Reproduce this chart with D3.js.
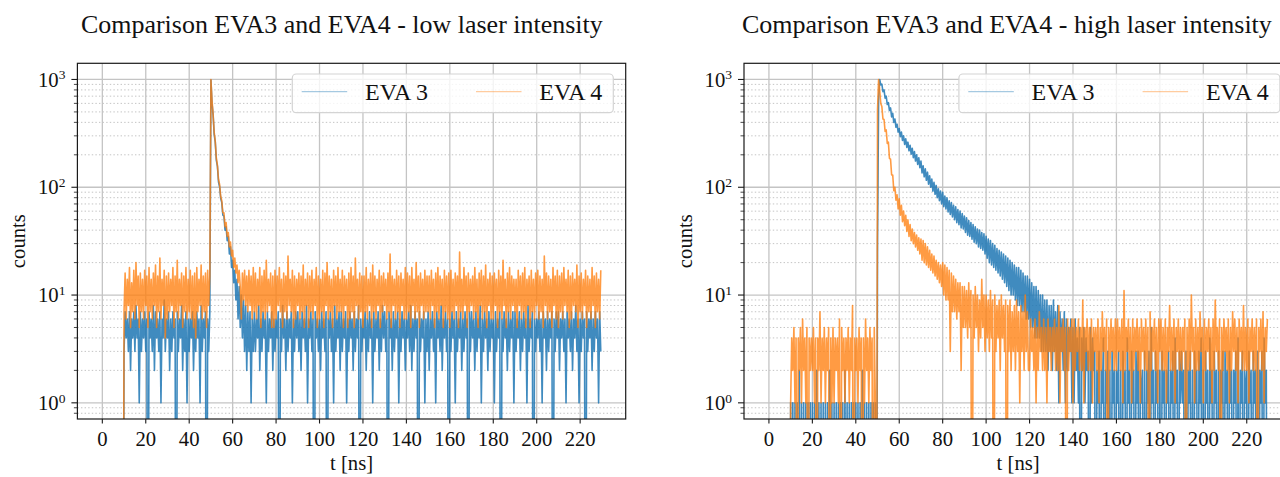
<!DOCTYPE html>
<html>
<head>
<meta charset="utf-8">
<script src="https://cdn.jsdelivr.net/npm/d3@7"></script>
<style>
  body { margin: 0; background: #fff; }
  text { font-family: "Liberation Serif", "Times New Roman", serif; fill: #111; }
</style>
</head>
<body>
<svg id="fig" width="1280" height="477"></svg>
<script>
// time bins: t = T_START + i * T_STEP  (ns)
const T_START = 0;
const T_STEP = 0.5;

const X_TICKS = [0, 20, 40, 60, 80, 100, 120, 140, 160, 180, 200, 220];
const Y_TICKS = [1, 10, 100, 1000];
const SERIES_NAMES = ["EVA 3", "EVA 4"];
const TITLES = [
    "Comparison EVA3 and EVA4 - low laser intensity",
    "Comparison EVA3 and EVA4 - high laser intensity"
];

// counts per bin, one row = 10 ns
const eva3Low = [
    0,0,0,0,0,0,0,0,0,0,0,0,0,0,0,0,0,0,0,0,
    3,7,4,6,3,7,2,6,4,7,3,8,4,6,1,7,3,6,4,7,
    3,6,0,7,4,6,3,8,2,7,4,6,3,7,1,6,4,9,3,6,
    4,7,2,6,3,7,4,6,0,7,3,6,4,8,2,6,3,7,1,6,
    3,6,4,7,2,6,3,7,4,6,1,8,3,6,4,7,0,6,3,7,
    990,600,470,310,262,178,156,112,101,79,72,55,54,40,43,32,35,24,28,18,
    21,13,17,9,14,6,12,5,10,4,9,3,8,2,7,3,7,1,6,3,
    7,3,6,4,8,2,6,3,7,4,6,1,7,3,6,4,7,2,6,3,
    6,4,7,0,6,3,8,4,6,2,7,3,6,4,7,1,6,3,7,4,
    7,3,6,2,7,4,6,3,8,1,6,4,7,3,6,0,7,4,6,3,
    6,2,7,4,6,3,7,0,6,4,7,3,6,1,8,3,6,4,7,2,
    7,3,6,4,7,1,6,3,7,4,6,2,7,3,6,4,8,0,6,3,
    6,4,7,2,6,3,7,4,6,1,7,3,6,4,7,2,6,3,8,4,
    7,3,6,0,7,4,6,2,7,3,6,4,7,1,6,3,7,4,6,2,
    6,4,7,3,8,2,6,3,7,4,6,0,7,3,6,4,7,1,6,3,
    7,2,6,4,7,3,6,1,7,4,6,3,8,2,6,4,7,3,6,0,
    6,3,7,4,6,1,7,3,6,4,7,2,6,3,7,4,6,0,7,3,
    7,4,6,2,7,3,6,4,8,1,6,3,7,4,6,2,7,3,6,4,
    6,1,7,3,6,4,7,0,6,3,7,4,6,2,7,3,6,4,7,1,
    7,3,6,4,7,2,6,3,7,4,6,1,8,3,6,4,7,0,6,3,
    6,4,7,3,6,1,7,4,6,2,7,3,6,4,7,0,6,3,7,4,
    7,2,6,4,7,3,6,1,7,4,6,3,7,2,6,4,8,3,6,1,
    6,3,7,4,6,0,7,3,6,4,7,2,6,3,7,4,6,1,7,3
];

const eva4Low = [
    0,0,0,0,0,0,0,0,0,0,0,0,0,0,0,0,0,0,0,0,
    7,16,6,14,8,18,5,13,7,17,6,20,8,15,5,16,7,14,6,17,
    8,15,5,18,7,14,6,16,8,19,5,15,7,22,6,14,8,17,4,15,
    6,16,7,14,8,18,5,15,7,21,6,14,8,16,5,15,7,18,6,14,
    7,17,6,15,5,16,4,18,7,14,8,19,6,15,7,16,5,17,8,15,
    1000,640,480,325,266,186,160,118,106,82,75,58,58,43,47,35,38,28,31,23,
    26,18,22,16,19,13,17,12,6,16,9,17,8,15,7,17,8,15,6,18,
    7,16,6,14,8,18,5,15,7,17,6,21,7,14,8,16,5,15,5,17,
    6,15,8,18,7,14,5,16,7,15,6,23,8,14,7,17,5,15,6,14,
    8,16,6,15,7,19,5,14,8,16,5,15,7,17,6,14,8,18,5,15,
    6,14,7,17,5,16,8,20,6,15,7,14,5,17,8,15,6,18,7,14,
    7,17,5,15,8,14,5,16,6,18,7,15,5,22,8,14,6,16,7,15,
    5,15,7,18,6,14,8,16,5,19,7,15,6,14,8,17,5,15,7,16,
    8,14,6,16,7,24,5,15,8,14,6,17,7,15,5,16,8,14,6,18,
    6,16,7,15,5,18,8,14,6,20,7,15,5,16,8,14,6,17,7,15,
    7,15,6,17,8,14,5,16,7,18,6,15,8,14,5,17,7,15,6,16,
    5,17,7,14,6,16,8,15,5,25,7,14,6,18,8,15,5,16,7,14,
    8,15,6,18,7,14,5,16,8,17,6,15,7,19,5,14,8,16,6,15,
    6,16,8,14,5,17,7,15,6,21,8,14,5,16,7,18,6,15,8,14,
    7,14,5,17,8,15,6,16,7,18,5,14,8,15,5,17,7,14,6,16,
    8,17,6,15,7,14,5,23,8,16,6,15,7,14,5,18,8,15,6,17,
    5,15,7,16,6,18,8,14,7,17,5,15,6,16,8,14,7,19,5,15,
    7,16,6,14,8,17,5,15,7,14,6,18,8,15,5,16,7,14,6,17
];

const eva3High = [
    0,0,0,0,0,0,0,0,0,0,0,0,0,0,0,0,0,0,0,0,
    1,0,1,0,1,0,1,0,2,0,1,0,1,0,1,0,1,0,1,0,
    1,0,1,0,2,0,1,0,1,0,1,0,1,0,1,0,2,0,1,0,
    1,0,1,0,1,0,1,0,1,0,2,0,1,0,1,0,1,0,1,0,
    1,0,1,0,1,0,2,0,1,0,1,0,1,0,1,0,1,0,1,0,
    30,640,1000,890,905,770,800,670,700,585,610,515,545,450,485,400,430,360,385,325,
    350,295,325,272,300,250,282,234,262,218,245,203,230,188,214,175,200,163,188,152,
    175,136,158,125,148,116,138,107,128,100,119,92,111,86,104,80,97,75,92,70,
    90,66,83,63,80,59,75,56,72,53,68,50,66,47,62,45,60,42,57,41,
    54,38,52,36,49,35,47,33,45,31,43,30,41,28,40,27,38,26,37,24,
    35,22,33,20,32,19,30,18,29,17,27,16,26,15,25,14,24,13,23,12,
    22,11,21,10,20,10,19,9,18,8,18,8,17,7,16,7,15,6,15,6,
    14,5,13,5,12,4,12,4,11,4,10,3,10,3,9,3,9,2,8,3,
    8,2,9,3,7,2,8,1,7,3,6,2,7,1,6,2,5,3,6,1,
    5,1,6,2,4,1,5,0,4,2,5,1,4,2,3,0,5,1,4,2,
    3,0,2,1,3,0,2,1,4,0,2,1,3,0,2,0,3,1,2,0,
    2,1,3,0,2,0,3,1,2,0,4,1,2,0,3,1,2,0,3,1,
    3,0,2,1,2,0,3,0,2,1,3,0,5,1,2,0,3,1,2,0,
    2,0,3,1,2,0,2,1,3,0,2,1,3,0,4,1,2,0,3,1,
    3,1,2,0,3,0,2,1,3,0,2,0,3,1,2,0,3,1,4,0,
    2,0,3,1,2,0,4,1,2,0,3,1,2,0,3,0,2,1,3,0,
    3,1,2,0,3,1,2,0,2,1,3,0,4,0,2,1,3,0,2,1,
    2,0,3,1,2,0,3,1,2,0,3,0,2,1,3,0,4,1,2,0
];

const eva4High = [
    0,0,0,0,0,0,0,0,0,0,0,0,0,0,0,0,0,0,0,0,
    1,4,2,5,1,4,0,4,2,5,1,6,2,4,1,5,0,4,2,4,
    2,5,1,4,0,4,2,7,1,4,2,5,1,4,2,5,0,4,1,5,
    1,4,2,4,1,6,0,5,2,4,1,4,2,5,1,4,2,8,0,4,
    2,4,1,5,2,4,0,4,1,6,2,4,1,5,2,4,0,5,1,0,
    520,1000,790,600,560,430,425,330,340,255,262,185,182,130,130,93,100,76,85,63,
    78,55,68,48,60,44,55,39,50,35,45,32,41,30,38,28,36,26,34,24,
    33,21,32,20,30,19,28,18,26,17,24,16,23,15,21,14,20,13,19,12,
    20,10,19,9,18,9,17,3,16,7,15,7,14,6,13,7,13,2,12,5,
    12,5,11,4,13,5,11,0,10,4,12,5,10,3,9,4,14,5,10,3,
    10,4,9,3,11,4,9,0,10,3,8,4,9,2,10,4,8,3,9,0,
    8,3,9,2,7,3,8,2,9,3,7,1,8,3,7,2,10,3,7,2,
    2,6,3,5,2,6,1,5,2,7,3,5,2,6,2,5,1,6,3,5,
    2,5,3,6,2,5,2,8,1,5,3,6,2,5,0,6,2,5,3,6,
    1,6,2,5,3,6,2,5,2,9,1,5,3,6,2,5,2,6,1,5,
    3,5,2,6,1,5,2,7,3,5,2,6,0,5,2,6,3,5,2,6,
    2,6,3,5,2,6,1,11,2,5,3,6,2,5,1,6,2,5,3,6,
    2,5,1,6,3,5,2,6,2,5,0,7,2,5,3,6,2,5,1,6,
    3,6,2,5,2,6,1,5,3,8,2,5,2,6,1,5,3,6,2,5,
    2,5,3,6,0,5,2,6,2,10,3,5,1,6,2,5,2,7,3,5,
    1,6,2,5,3,6,2,5,1,6,2,9,3,5,2,6,0,5,2,6,
    3,5,2,6,1,5,2,7,3,6,2,5,1,6,3,5,2,8,2,5,
    2,6,1,5,3,6,2,5,2,6,0,5,3,6,2,7,1,5,3,6
];

const COLORS = ["#1f77b4", "#ff7f0e"];
const LINE_ALPHA = [0.85, 0.78];
const LINE_W = 1.6;
const AX_W = 548.3;
const AX_TOP = 63.3;
const AX_BOTTOM = 419;
const FONT = 20.7;

const svg = d3.select("#fig");

const panels = [
    { title: TITLES[0], left: 77.4, titleX: 81, titleW: 522, series: [eva3Low, eva4Low] },
    { title: TITLES[1], left: 744, titleX: 742, titleW: 530, series: [eva3High, eva4High] }
];

// shrink / grow a text element until it spans the wanted width
function fitWidth(sel, target) {
    const size = +sel.attr("font-size");
    const w = sel.node().getComputedTextLength();
    if (w > 0) sel.attr("font-size", size * target / w);
}

panels.forEach((p, pi) => {
    const g = svg.append("g");
    const n = p.series[0].length;
    const tMax = T_START + (n - 1) * T_STEP;
    const pad = 0.05 * (tMax - T_START);
    const x = d3.scaleLinear()
        .domain([T_START - pad, tMax + pad])
        .range([p.left, p.left + AX_W]);

    const positive = p.series.flat().filter(v => v > 0);
    const lo = Math.log10(d3.min(positive));
    const hi = Math.log10(d3.max(positive));
    const m = 0.05 * (hi - lo);
    const y = d3.scaleLog()
        .domain([10 ** (lo - m), 10 ** (hi + m)])
        .range([AX_BOTTOM, AX_TOP]);
    const [y0, y1] = y.domain();

    // minor log ticks 2..9 per decade
    const minor = [];
    for (let k = Math.floor(Math.log10(y0)); k <= Math.ceil(Math.log10(y1)); k++) {
        for (let j = 2; j <= 9; j++) {
            const v = j * 10 ** k;
            if (v >= y0 && v <= y1) minor.push(v);
        }
    }

    const clipId = "clip" + pi;
    svg.append("clipPath").attr("id", clipId)
        .append("rect")
        .attr("x", p.left).attr("y", AX_TOP)
        .attr("width", AX_W).attr("height", AX_BOTTOM - AX_TOP);

    // grid
    g.selectAll(".ming").data(minor).enter().append("line")
        .attr("x1", p.left).attr("x2", p.left + AX_W)
        .attr("y1", d => y(d)).attr("y2", d => y(d))
        .attr("stroke", "#bdbdbd").attr("stroke-width", 0.9)
        .attr("stroke-dasharray", "1.4,2.2");
    g.selectAll(".majy").data(Y_TICKS).enter().append("line")
        .attr("x1", p.left).attr("x2", p.left + AX_W)
        .attr("y1", d => y(d)).attr("y2", d => y(d))
        .attr("stroke", "#c4c4c4").attr("stroke-width", 1.3);
    g.selectAll(".majx").data(X_TICKS).enter().append("line")
        .attr("x1", d => x(d)).attr("x2", d => x(d))
        .attr("y1", AX_TOP).attr("y2", AX_BOTTOM)
        .attr("stroke", "#c4c4c4").attr("stroke-width", 1.3);

    // data lines, zero counts fall far below the axis and get clipped
    const line = d3.line()
        .x((d, i) => x(T_START + i * T_STEP))
        .y(d => y(Math.max(d, y0 / 1000)));

    p.series.forEach((s, si) => {
        g.append("path")
            .attr("clip-path", `url(#${clipId})`)
            .attr("d", line(s))
            .attr("fill", "none")
            .attr("stroke", COLORS[si])
            .attr("stroke-width", LINE_W)
            .attr("stroke-opacity", LINE_ALPHA[si])
            .attr("stroke-linejoin", "round");
    });

    // frame
    g.append("rect")
        .attr("x", p.left).attr("y", AX_TOP)
        .attr("width", AX_W).attr("height", AX_BOTTOM - AX_TOP)
        .attr("fill", "none").attr("stroke", "#1a1a1a").attr("stroke-width", 1.2);

    // ticks
    g.selectAll(".xt").data(X_TICKS).enter().append("line")
        .attr("x1", d => x(d)).attr("x2", d => x(d))
        .attr("y1", AX_BOTTOM).attr("y2", AX_BOTTOM + 4.5)
        .attr("stroke", "#1a1a1a").attr("stroke-width", 1.1);
    g.selectAll(".xl").data(X_TICKS).enter().append("text")
        .attr("x", d => x(d)).attr("y", 446)
        .attr("text-anchor", "middle").attr("font-size", FONT)
        .text(d => d);

    g.selectAll(".yt").data(Y_TICKS).enter().append("line")
        .attr("x1", p.left - 6).attr("x2", p.left)
        .attr("y1", d => y(d)).attr("y2", d => y(d))
        .attr("stroke", "#1a1a1a").attr("stroke-width", 1.1);
    g.selectAll(".ymt").data(minor).enter().append("line")
        .attr("x1", p.left - 3.5).attr("x2", p.left)
        .attr("y1", d => y(d)).attr("y2", d => y(d))
        .attr("stroke", "#1a1a1a").attr("stroke-width", 0.8);
    const yl = g.selectAll(".yl").data(Y_TICKS).enter().append("text")
        .attr("x", p.left - 12).attr("y", d => y(d) + 7.2)
        .attr("text-anchor", "end").attr("font-size", FONT);
    yl.append("tspan").text("10");
    yl.append("tspan").attr("dy", -7.2).attr("font-size", 13.5)
        .text(d => Math.round(Math.log10(d)));

    // axis labels and title
    g.append("text")
        .attr("transform", `translate(${p.left - 52.5},${(AX_TOP + AX_BOTTOM) / 2}) rotate(-90)`)
        .attr("text-anchor", "middle").attr("font-size", FONT)
        .text("counts");
    g.append("text")
        .attr("x", p.left + AX_W / 2).attr("y", 470)
        .attr("text-anchor", "middle").attr("font-size", FONT)
        .text("t [ns]");
    const title = g.append("text")
        .attr("x", p.titleX).attr("y", 33)
        .attr("font-size", 22)
        .text(p.title);
    fitWidth(title, p.titleW);

    // legend
    const lx = p.left + AX_W - 12.4 - 321;
    const lg = g.append("g");
    lg.append("rect")
        .attr("x", lx).attr("y", 74)
        .attr("width", 321).attr("height", 38.7)
        .attr("rx", 4)
        .attr("fill", "#fff").attr("fill-opacity", 0.8)
        .attr("stroke", "#d4d4d4").attr("stroke-width", 1.2);
    const offs = [[9.4, 72.7], [183.7, 247]];
    SERIES_NAMES.forEach((name, si) => {
        lg.append("line")
            .attr("x1", lx + offs[si][0]).attr("x2", lx + offs[si][0] + 45.5)
            .attr("y1", 91.7).attr("y2", 91.7)
            .attr("stroke", COLORS[si]).attr("stroke-width", 1.3)
            .attr("stroke-opacity", 0.4);
        const t = lg.append("text")
            .attr("x", lx + offs[si][1]).attr("y", 100)
            .attr("font-size", 21)
            .text(name);
        fitWidth(t, 63);
    });
});
</script>
</body>
</html>
